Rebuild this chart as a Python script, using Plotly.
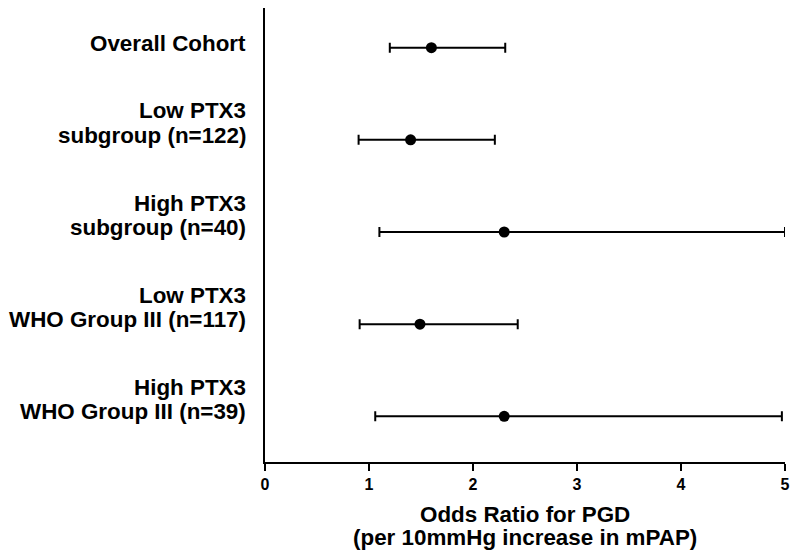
import plotly.graph_objects as go

categories = ["Overall Cohort", "Low PTX3<br>subgroup (n=122)", "High PTX3<br>subgroup (n=40)",
              "Low PTX3<br>WHO Group III (n=117)", "High PTX3<br>WHO Group III (n=39)"]
odds_ratio = [1.60, 1.40, 2.30, 1.49, 2.30]
ci_lower = [1.20, 0.90, 1.10, 0.91, 1.06]
ci_upper = [2.31, 2.21, 5.00, 2.43, 4.97]
x_ticks = [0, 1, 2, 3, 4, 5]
x_title = ["Odds Ratio for PGD", "(per 10mmHg increase in mPAP)"]

FONT = "Liberation Sans, Arial, sans-serif"
LABEL_SIZE = 22.4
TITLE_SIZE = 22.4
LINE_GAP = 24.5

fig = go.Figure()
fig.add_trace(go.Scatter(
    x=odds_ratio, y=categories, mode="markers",
    marker=dict(color="black", size=11, symbol="circle"),
    error_x=dict(type="data", symmetric=False,
                 array=[u - o for u, o in zip(ci_upper, odds_ratio)],
                 arrayminus=[o - l for o, l in zip(odds_ratio, ci_lower)],
                 color="black", thickness=2, width=5),
    cliponaxis=False, showlegend=False,
))

# category labels: each line placed separately for tight line spacing
for c in categories:
    lines = c.split("<br>")
    n = len(lines)
    for i, line in enumerate(lines):
        fig.add_annotation(text="<b>%s</b>" % line, xref="paper", x=0, y=c, yref="y",
                           xanchor="right", yanchor="middle", xshift=-17,
                           yshift=4.5 + (n - 1 - i) * LINE_GAP,
                           showarrow=False,
                           font=dict(family=FONT, size=LABEL_SIZE, color="black"))

# x axis title, two lines
for i, line in enumerate(x_title):
    fig.add_annotation(text="<b>%s</b>" % line, xref="paper", x=0.5, yref="paper", y=0,
                       xanchor="center", yanchor="middle", yshift=-52 - i * 23.5,
                       showarrow=False,
                       font=dict(family=FONT, size=TITLE_SIZE, color="black"))

# page body has an 8px margin on every side, so the figure is sized to fit
# the 800x559 window without scrollbars
fig.update_layout(
    width=784, height=543,
    margin=dict(l=257, r=7, t=0, b=89),
    paper_bgcolor="white", plot_bgcolor="white",
    font=dict(family=FONT, color="black"),
    xaxis=dict(range=[0, 5], tickvals=x_ticks, ticktext=["<b>%d</b>" % t for t in x_ticks],
               showline=True, linecolor="black", linewidth=2, ticks="outside", ticklen=7,
               tickwidth=2, tickcolor="black", showgrid=False, zeroline=False,
               ticklabeloverflow="allow",
               tickfont=dict(size=16, family=FONT, color="black")),
    yaxis=dict(type="category", categoryorder="array", categoryarray=categories,
               range=[4.496, -0.431], showline=True, linecolor="black", linewidth=2,
               showticklabels=False, ticks="", showgrid=False, zeroline=False),
)

fig.write_html("out.html")
